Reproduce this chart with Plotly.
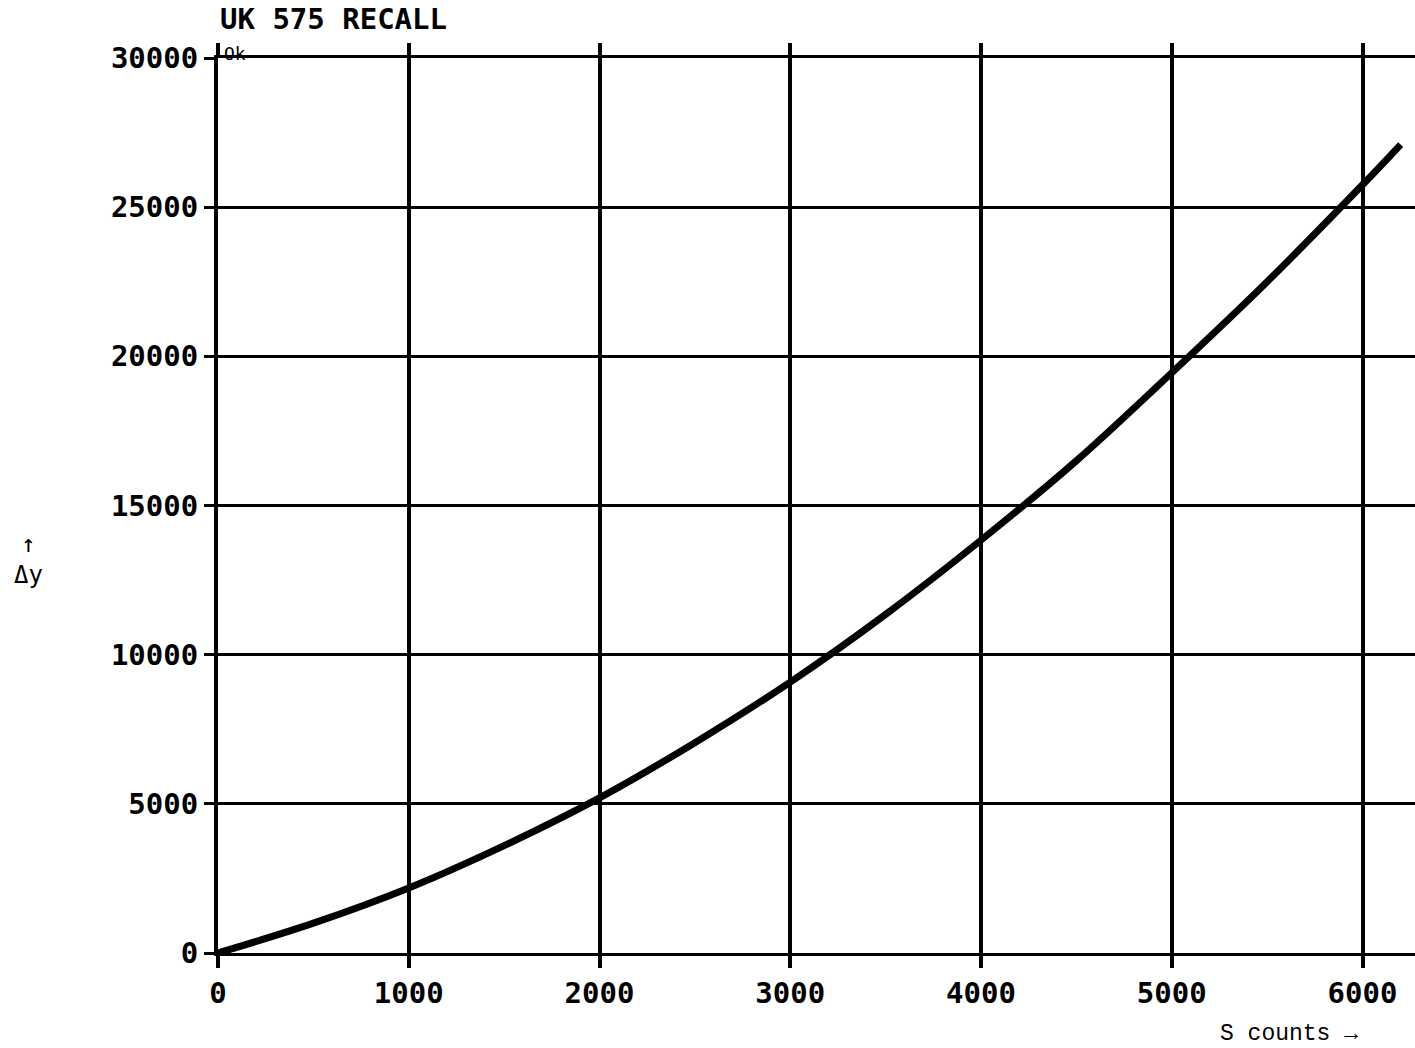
import plotly.graph_objects as go

# Data
s_counts = [0, 500, 1000, 1500, 2000, 2500, 3000, 3500, 4000, 4500, 5000, 5500, 6000, 6200]
delta_y = [0, 1000, 2180, 3600, 5200, 7050, 9080, 11350, 13840, 16500, 19450, 22500, 25750, 27100]

x_ticks = [0, 1000, 2000, 3000, 4000, 5000, 6000]
y_ticks = [0, 5000, 10000, 15000, 20000, 25000, 30000]

W, H = 1415, 1048
ML, MR, MT, MB = 218, 0, 58, 95

tick_font = dict(family="DejaVu Sans Mono", size=29, color="black", weight="bold")

fig = go.Figure()
fig.add_trace(go.Scatter(
    x=s_counts, y=delta_y, mode="lines",
    line=dict(color="black", width=7, shape="spline"),
    showlegend=False, hoverinfo="skip",
))

fig.update_layout(
    width=W, height=H,
    margin=dict(l=ML, r=MR, t=MT, b=MB, pad=0),
    paper_bgcolor="white", plot_bgcolor="white",
    xaxis=dict(
        range=[0, 6275], tickvals=x_ticks, ticktext=[str(v) for v in x_ticks],
        showgrid=True, gridcolor="black", gridwidth=4,
        zeroline=False, showline=True, linecolor="black", linewidth=3,
        mirror="ticks", ticks="outside", ticklen=12, tickwidth=4, tickcolor="black",
        tickfont=tick_font,
    ),
    yaxis=dict(
        range=[0, 30000], tickvals=y_ticks, ticktext=[str(v) for v in y_ticks],
        showgrid=True, gridcolor="black", gridwidth=3,
        zeroline=False, showline=True, linecolor="black", linewidth=4,
        ticks="outside", ticklen=10, tickwidth=3, tickcolor="black",
        tickfont=tick_font,
    ),
    annotations=[
        dict(text="UK 575 RECALL", xref="paper", yref="paper", x=0, y=1,
             xanchor="left", yanchor="bottom", yshift=20, showarrow=False,
             font=dict(family="DejaVu Sans Mono", size=29, color="black", weight="bold")),
        dict(text="Ok", xref="paper", yref="paper", x=0, y=1,
             xanchor="left", yanchor="bottom", xshift=4, yshift=-8, showarrow=False,
             font=dict(family="DejaVu Sans Mono", size=18, color="black")),
        dict(text="↑<br>Δy", xref="paper", yref="paper", x=0, y=0.44,
             xanchor="center", yanchor="middle", xshift=-190, showarrow=False,
             font=dict(family="DejaVu Sans Mono", size=24, color="black")),
        dict(text="S counts →", xref="paper", yref="paper", x=0.895, y=0,
             xanchor="center", yanchor="top", yshift=-66, showarrow=False,
             font=dict(family="Liberation Mono, DejaVu Sans Mono", size=23, color="black")),
    ],
)

fig.write_html("out.html")
